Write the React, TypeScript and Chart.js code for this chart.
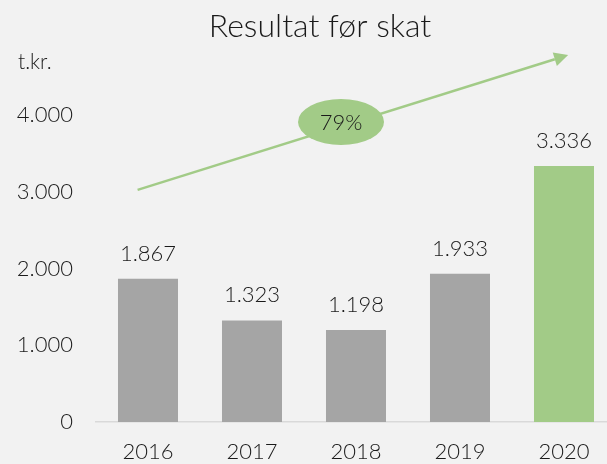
import React, { useEffect, useRef } from "react";
import { Chart, registerables } from "chart.js";

Chart.register(...registerables);

const categories = ["2016", "2017", "2018", "2019", "2020"];
const values = [1867, 1323, 1198, 1933, 3336];
const barColors = ["#a5a5a5", "#a5a5a5", "#a5a5a5", "#a5a5a5", "#a2cb87"];
const yTicks = [0, 1000, 2000, 3000, 4000];
const titleText = "Resultat før skat";
const unitText = "t.kr.";
const growthLabel = "79%";
// arrow annotation in data space (category index, value)
const arrowStart = [-0.1, 3025];
const arrowEnd = [4.04, 4781];
const ellipseCenter = [1.856, 3910];

const FONT = "Lato, 'Noto Sans', sans-serif";
const W = "300";
const GREEN = "#a2cb87";

const fmt = (v: number) => {
  const s = Math.round(v).toString();
  return s.replace(/\B(?=(\d{3})+(?!\d))/g, ".");
};

const overlay = {
  id: "overlay",
  afterDatasetsDraw(chart: any) {
    const ctx = chart.ctx;
    const meta = chart.getDatasetMeta(0);
    ctx.save();
    ctx.fillStyle = "#1a1a1a";
    ctx.font = `${W} 22px ${FONT}`;
    ctx.textAlign = "center";
    ctx.textBaseline = "alphabetic";
    meta.data.forEach((bar: any, i: number) => {
      ctx.fillText(fmt(values[i]), bar.x, bar.y - 18);
    });
    ctx.restore();
  },
  afterDraw(chart: any) {
    const ctx = chart.ctx;
    const xs = chart.scales.x;
    const ys = chart.scales.y;
    ctx.save();
    // title
    ctx.fillStyle = "#1a1a1a";
    ctx.textAlign = "center";
    ctx.textBaseline = "alphabetic";
    ctx.font = `${W} 32px ${FONT}`;
    ctx.fillText(titleText, 320, 37);
    // unit
    ctx.font = `${W} 21px ${FONT}`;
    ctx.textAlign = "left";
    ctx.fillText(unitText, 18, 69);

    // arrow
    const x1 = xs.getPixelForValue(arrowStart[0]);
    const y1 = ys.getPixelForValue(arrowStart[1]);
    const x2 = xs.getPixelForValue(arrowEnd[0]);
    const y2 = ys.getPixelForValue(arrowEnd[1]);
    const ang = Math.atan2(y2 - y1, x2 - x1);
    const headLen = 14;
    const headW = 7;
    const bx = x2 - headLen * Math.cos(ang);
    const by = y2 - headLen * Math.sin(ang);
    ctx.strokeStyle = GREEN;
    ctx.lineWidth = 2.5;
    ctx.beginPath();
    ctx.moveTo(x1, y1);
    ctx.lineTo(bx, by);
    ctx.stroke();
    ctx.fillStyle = GREEN;
    ctx.beginPath();
    ctx.moveTo(x2, y2);
    ctx.lineTo(bx + headW * Math.sin(ang), by - headW * Math.cos(ang));
    ctx.lineTo(bx - headW * Math.sin(ang), by + headW * Math.cos(ang));
    ctx.closePath();
    ctx.fill();

    // ellipse
    const ex = xs.getPixelForValue(ellipseCenter[0]);
    const ey = ys.getPixelForValue(ellipseCenter[1]);
    ctx.beginPath();
    ctx.ellipse(ex, ey, 43, 23, 0, 0, Math.PI * 2);
    ctx.fill();
    ctx.fillStyle = "#1a1a1a";
    ctx.font = `${W} 22px ${FONT}`;
    ctx.textAlign = "center";
    ctx.textBaseline = "middle";
    ctx.fillText(growthLabel, ex, ey + 1);
    ctx.restore();
  },
};

const bg = {
  id: "bg",
  beforeDraw(chart: any) {
    const ctx = chart.ctx;
    ctx.save();
    ctx.fillStyle = "#f2f2f2";
    ctx.fillRect(0, 0, chart.width, chart.height);
    ctx.restore();
  },
};

export default function App() {
  const ref = useRef<HTMLCanvasElement>(null);
  useEffect(() => {
    if (!ref.current) return;
    const chart = new Chart(ref.current, {
      type: "bar",
      data: {
        labels: categories,
        datasets: [
          {
            data: values,
            backgroundColor: barColors,
            categoryPercentage: 1,
            barPercentage: 0.577,
          },
        ],
      },
      options: {
        animation: false,
        responsive: false,
        maintainAspectRatio: false,
        layout: { padding: { top: 115, left: 0, right: 4, bottom: 0 } },
        plugins: {
          legend: { display: false },
          title: { display: false },
          tooltip: { enabled: false },
        },
        scales: {
          x: {
            afterFit(scale: any) {
              scale.height = 42;
            },
            grid: { display: false, drawTicks: false },
            border: { display: true, color: "#d9d9d9", width: 1.5 },
            ticks: {
              color: "#1a1a1a",
              font: { family: FONT, size: 22, weight: W },
              padding: 17,
              maxRotation: 0,
            },
          },
          y: {
            min: 0,
            max: 4000,
            afterFit(scale: any) {
              scale.width = 96;
            },
            afterBuildTicks(scale: any) {
              scale.ticks = yTicks.map((v) => ({ value: v }));
            },
            grid: { display: false, drawTicks: false },
            border: { display: false },
            ticks: {
              color: "#1a1a1a",
              font: { family: FONT, size: 22, weight: W },
              padding: 23,
              callback: (v: any) => fmt(Number(v)),
            },
          },
        },
      },
      plugins: [bg, overlay],
    });
    return () => chart.destroy();
  }, []);
  return (
    <div
      style={{
        position: "fixed",
        left: 0,
        top: 0,
        width: 607,
        height: 464,
        overflow: "hidden",
        background: "#f2f2f2",
      }}
    >
      <canvas ref={ref} width={620} height={464} style={{ display: "block" }} />
    </div>
  );
}
